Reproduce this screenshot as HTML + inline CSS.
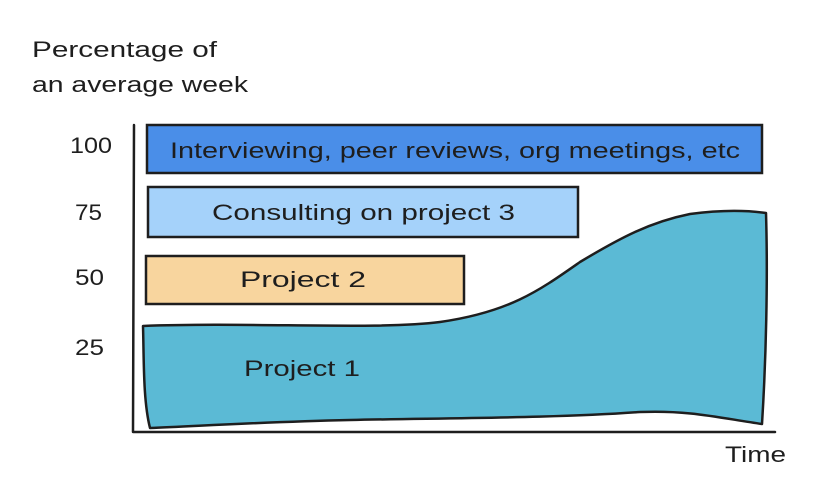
<!DOCTYPE html>
<html><head><meta charset="utf-8"><style>
html,body{margin:0;padding:0;background:#fff;}
svg text{font-family:"Liberation Sans",sans-serif;fill:#1e1e1e;}
</style></head><body>
<svg width="824" height="495" viewBox="0 0 824 495" xmlns="http://www.w3.org/2000/svg">
<rect width="824" height="495" fill="#fff"/>
<text x="32" y="57" font-size="22" textLength="185" lengthAdjust="spacingAndGlyphs">Percentage of</text>
<text x="32" y="92" font-size="22" textLength="216" lengthAdjust="spacingAndGlyphs">an average week</text>
<text x="70" y="153" font-size="22" textLength="42" lengthAdjust="spacingAndGlyphs">100</text>
<text x="75" y="220" font-size="22" textLength="27" lengthAdjust="spacingAndGlyphs">75</text>
<text x="75" y="285" font-size="22" textLength="29" lengthAdjust="spacingAndGlyphs">50</text>
<text x="75" y="355" font-size="22" textLength="29" lengthAdjust="spacingAndGlyphs">25</text>
<text x="725" y="462" font-size="22" textLength="61" lengthAdjust="spacingAndGlyphs">Time</text>
<path d="M143,326 C250,322 380,330 440,322 C510,312 540,290 580,262 C620,238 650,222 690,214 C720,210 745,210 766,213 C768,280 766,360 762,424 C720,418 690,410 640,412 C560,418 450,418 350,420 C260,422 200,426 150,428 C143,400 144,360 143,326 Z" fill="#5bbad5" stroke="#1e1e1e" stroke-width="2.5" stroke-linejoin="round"/>
<text x="244" y="376" font-size="22" textLength="116" lengthAdjust="spacingAndGlyphs">Project 1</text>
<rect x="147" y="125" width="615" height="48" fill="#4a8ee8" stroke="#1e1e1e" stroke-width="2.5"/>
<text x="170" y="158" font-size="22" textLength="570" lengthAdjust="spacingAndGlyphs">Interviewing, peer reviews, org meetings, etc</text>
<rect x="148" y="187" width="430" height="50" fill="#a5d2fa" stroke="#1e1e1e" stroke-width="2.5"/>
<text x="212" y="220" font-size="22" textLength="303" lengthAdjust="spacingAndGlyphs">Consulting on project 3</text>
<rect x="146" y="256" width="318" height="48" fill="#f8d59e" stroke="#1e1e1e" stroke-width="2.5"/>
<text x="240" y="287" font-size="22" textLength="126" lengthAdjust="spacingAndGlyphs">Project 2</text>
<path d="M134,125 L133,432 L775,432" fill="none" stroke="#1e1e1e" stroke-width="2.5" stroke-linecap="round" stroke-linejoin="round"/>
</svg>
</body></html>
